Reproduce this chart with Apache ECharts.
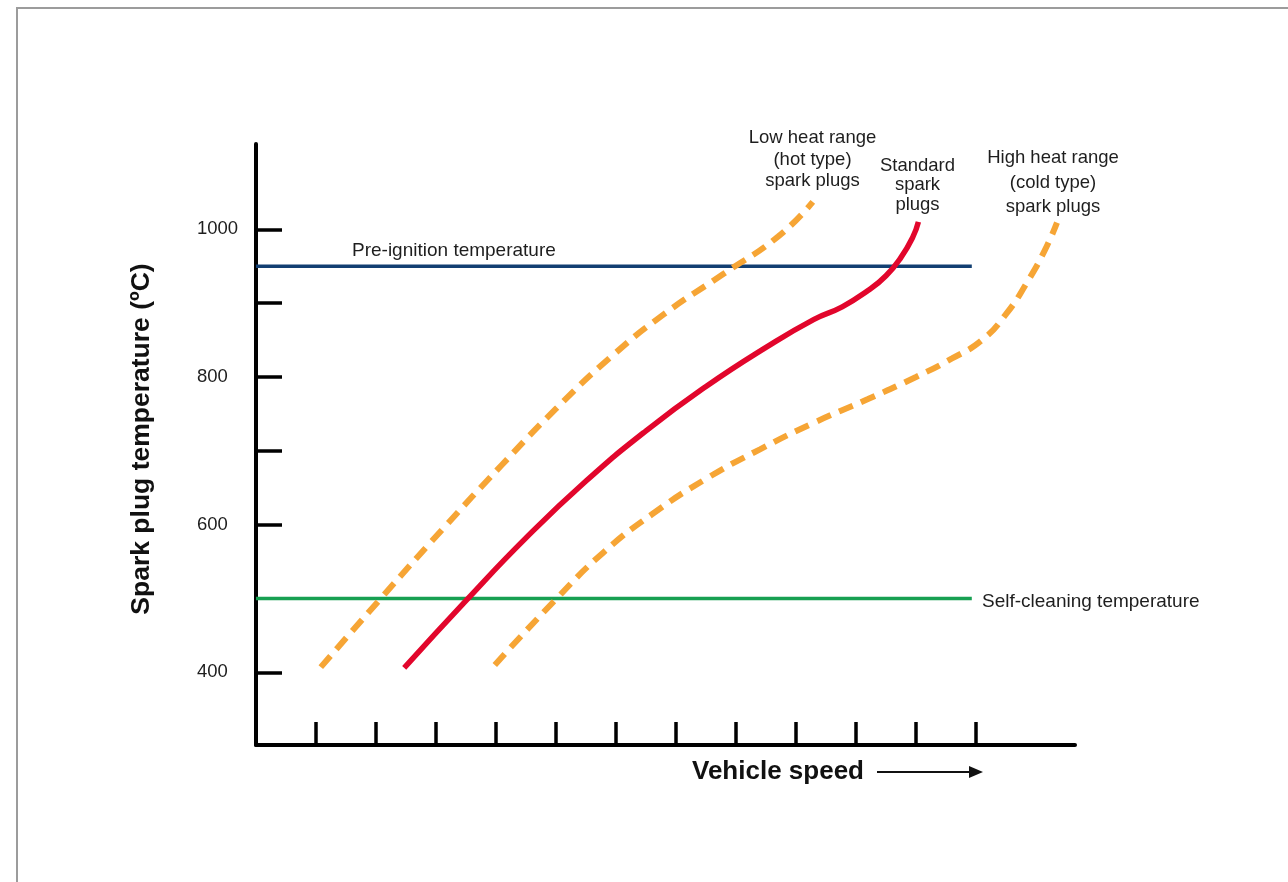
<!DOCTYPE html>
<html>
<head>
<meta charset="utf-8">
<script src="https://cdn.jsdelivr.net/npm/echarts@6/dist/echarts.min.js"></script>
<style>
html,body{margin:0;padding:0;background:#fff;}
#chart{width:1288px;height:882px;}
</style>
</head>
<body>
<div id="chart"></div>
<script>
// ---- data ----
const lowHeat = [[1.08,407],[2.08,500],[3.1,593],[4.1,681],[5.0,757],[5.9,826],[6.8,885],[7.8,940],[8.7,990],[9.28,1037]];
const standard = [[2.47,406],[3.5,497],[4.5,582],[5.5,659],[6.5,727],[7.5,787],[8.5,840],[9.3,878],[9.77,895],[10.2,917],[10.5,937],[10.75,962],[10.95,990],[11.04,1010]];
const highHeat = [[3.98,410],[5.0,499],[5.8,563],[6.6,614],[7.5,662],[8.4,702],[9.3,738],[10.2,770],[11.0,800],[11.6,825],[12.1,850],[12.5,885],[12.85,928],[13.15,972],[13.35,1009]];
const preIgnition = [[0,950],[11.93,950]];
const selfCleaning = [[0,500],[11.93,500]];
const yTickValues = [400,600,700,800,900,1000];
const yLabelValues = [400,600,800,1000];
const xTickValues = [1,2,3,4,5,6,7,8,9,10,11,12];
const lowHeatLabel = ['Low heat range','(hot type)','spark plugs'];
const standardLabel = ['Standard','spark','plugs'];
const highHeatLabel = ['High heat range','(cold type)','spark plugs'];
const preIgnitionLabel = 'Pre-ignition temperature';
const selfCleaningLabel = 'Self-cleaning temperature';
const yTitle = 'Spark plug temperature (ºC)';
const xTitle = 'Vehicle speed';

const FONT = '"Liberation Sans", Arial, Helvetica, sans-serif';
const TXT = '#1e1e1e';
const ORANGE = '#F6A535';

function lines(arr, cx, ys){
  return arr.map((t,i)=>({type:'text', x:cx, y:ys[i], style:{text:t, fill:TXT, font:'18.5px '+FONT, textAlign:'center', textVerticalAlign:'middle'}}));
}

const chart = echarts.init(document.getElementById('chart'), null, {renderer:'canvas'});
chart.setOption({
  animation:false,
  backgroundColor:'#fff',
  grid:{left:256, top:144, right:213, bottom:137, containLabel:false},
  xAxis:{
    type:'value', min:0, max:13.65,
    axisLine:{show:true, lineStyle:{color:'#000', width:4}},
    axisTick:{show:true, inside:true, length:23, customValues:xTickValues, lineStyle:{color:'#000', width:3.5}},
    axisLabel:{show:false},
    splitLine:{show:false}
  },
  yAxis:{
    type:'value', min:301.5, max:1115.5,
    axisLine:{show:true, lineStyle:{color:'#000', width:4}},
    axisTick:{show:true, inside:true, length:26, customValues:yTickValues, lineStyle:{color:'#000', width:3.5}},
    axisLabel:{show:true, customValues:yLabelValues, margin:59, align:'left', color:TXT, fontSize:18.5, fontFamily:FONT, formatter:(v)=>String(v)},
    splitLine:{show:false}
  },
  series:[
    {type:'line', name:'pre', data:preIgnition, symbol:'none', lineStyle:{color:'#123F72', width:3.5}, z:3},
    {type:'line', name:'self', data:selfCleaning, symbol:'none', lineStyle:{color:'#17A052', width:3.5}, z:3},
    {type:'line', name:'low', data:lowHeat, symbol:'none', smooth:0.5, lineStyle:{color:ORANGE, width:6, type:[15,9]}, z:4},
    {type:'line', name:'std', data:standard, symbol:'none', smooth:0.5, lineStyle:{color:'#E2062C', width:5.5}, z:5},
    {type:'line', name:'high', data:highHeat, symbol:'none', smooth:0.5, lineStyle:{color:ORANGE, width:6, type:[15,9]}, z:4}
  ],
  graphic:[
    {type:'rect', shape:{x:17, y:8, width:1400, height:1000}, style:{fill:'none', stroke:'#9c9c9c', lineWidth:2}, silent:true},
    {type:'text', x:352, y:251, style:{text:preIgnitionLabel, fill:TXT, font:'19px '+FONT, textAlign:'left', textVerticalAlign:'middle'}},
    {type:'text', x:982, y:602, style:{text:selfCleaningLabel, fill:TXT, font:'19px '+FONT, textAlign:'left', textVerticalAlign:'middle'}},
    ...lines(lowHeatLabel, 812.5, [138,160,181]),
    ...lines(standardLabel, 917.5, [166,185,205]),
    ...lines(highHeatLabel, 1053, [158,183,207]),
    {type:'text', x:142, y:439, rotation:Math.PI/2, style:{text:yTitle, fill:'#111', font:'bold 26.5px '+FONT, textAlign:'center', textVerticalAlign:'middle'}},
    {type:'text', x:692, y:772, style:{text:xTitle, fill:'#111', font:'bold 26px '+FONT, textAlign:'left', textVerticalAlign:'middle'}},
    {type:'line', shape:{x1:877, y1:772, x2:972, y2:772}, style:{stroke:'#111', lineWidth:2}},
    {type:'polygon', shape:{points:[[969,766],[983,772],[969,778]]}, style:{fill:'#111'}}
  ]
});
</script>
</body>
</html>
